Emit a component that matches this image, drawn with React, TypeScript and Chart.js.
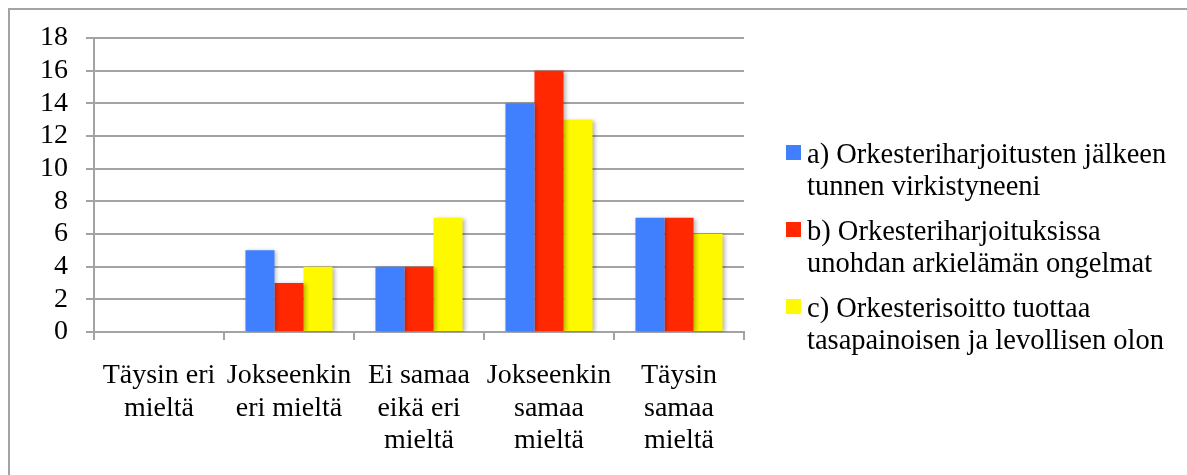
import React, { useEffect, useRef } from "react";
import { Chart, registerables } from "chart.js";

Chart.register(...registerables);

const categories: string[][] = [
  ["Täysin eri", "mieltä"],
  ["Jokseenkin", "eri mieltä"],
  ["Ei samaa", "eikä eri", "mieltä"],
  ["Jokseenkin", "samaa", "mieltä"],
  ["Täysin", "samaa", "mieltä"],
];

const seriesA: number[] = [0, 5, 4, 14, 7];
const seriesB: number[] = [0, 3, 4, 16, 7];
const seriesC: number[] = [0, 4, 7, 13, 6];

const legendLabels: string[][] = [
  ["a) Orkesteriharjoitusten jälkeen", "tunnen virkistyneeni"],
  ["b) Orkesteriharjoituksissa", "unohdan arkielämän ongelmat"],
  ["c) Orkesterisoitto tuottaa", "tasapainoisen ja levollisen olon"],
];

const colors = ["#4080ff", "#ff2800", "#fff900"];

const yTicks = { min: 0, max: 18, step: 2 };

const FONT = '"Liberation Serif", "Times New Roman", serif';
const GRID = "#a3a3a3";

const shadowPlugin = {
  id: "barShadow",
  beforeDatasetsDraw(chart: any) {
    const ctx = chart.ctx;
    ctx.save();
    ctx.shadowColor = "rgba(0,0,0,0.28)";
    ctx.shadowBlur = 4;
    ctx.shadowOffsetX = 2;
    ctx.shadowOffsetY = 1;
  },
  afterDatasetsDraw(chart: any) {
    chart.ctx.restore();
  },
};

const legendPlugin = {
  id: "multiLegend",
  afterDraw(chart: any) {
    const ctx = chart.ctx;
    const area = chart.chartArea;
    const boxX = area.right + 42;
    const textX = boxX + 21;
    ctx.save();
    ctx.font = `28.5px ${FONT}`;
    ctx.textBaseline = "alphabetic";
    ctx.textAlign = "left";
    chart.data.datasets.forEach((ds: any, i: number) => {
      const baseY = 153 + i * 77;
      ctx.fillStyle = ds.backgroundColor;
      ctx.fillRect(boxX, baseY - 18, 15, 15);
      ctx.fillStyle = "#000";
      const lines: string[] = ds.legendLines;
      lines.forEach((line, j) => {
        ctx.fillText(line, textX, baseY + j * 32);
      });
    });
    ctx.restore();
  },
};

export default function App() {
  const canvasRef = useRef<HTMLCanvasElement | null>(null);

  useEffect(() => {
    if (!canvasRef.current) return;
    const series = [seriesA, seriesB, seriesC];
    const chart = new Chart(canvasRef.current, {
      type: "bar",
      data: {
        labels: categories,
        datasets: series.map((s, i) => ({
          label: legendLabels[i].join(" "),
          legendLines: legendLabels[i],
          data: s,
          backgroundColor: colors[i],
          borderWidth: 0,
          categoryPercentage: 0.67,
          barPercentage: 1,
        })) as any,
      },
      options: {
        animation: false,
        responsive: true,
        maintainAspectRatio: false,
        layout: { padding: { left: 20, top: 28, right: 443, bottom: 0 } },
        plugins: {
          legend: { display: false },
          tooltip: { enabled: false },
          title: { display: false },
        },
        scales: {
          x: {
            afterFit(scale: any) {
              scale.height = 143;
              scale.paddingLeft = 0;
              scale.paddingRight = 0;
            },
            grid: {
              offset: true,
              drawOnChartArea: false,
              drawTicks: true,
              tickLength: 8,
              color: GRID,
              lineWidth: 2,
            },
            border: { color: GRID, width: 2 },
            ticks: {
              color: "#000",
              font: { family: FONT, size: 28, lineHeight: 1.15 },
              padding: 20,
              maxRotation: 0,
              autoSkip: false,
            },
          },
          y: {
            min: yTicks.min,
            max: yTicks.max,
            afterFit(scale: any) {
              scale.width = 64;
              scale.paddingTop = 0;
              scale.paddingBottom = 0;
            },
            grid: {
              color: GRID,
              lineWidth: 2,
              drawTicks: true,
              tickLength: 8,
            },
            border: { color: GRID, width: 2 },
            ticks: {
              stepSize: yTicks.step,
              autoSkip: false,
              color: "#000",
              font: { family: FONT, size: 28 },
              padding: 18,
            },
          },
        },
      },
      plugins: [shadowPlugin, legendPlugin],
    });
    return () => chart.destroy();
  }, []);

  return (
    <div
      style={{
        position: "fixed",
        left: 8,
        top: 8,
        width: 1179,
        height: 467,
        boxSizing: "border-box",
        borderTop: `2px solid ${GRID}`,
        borderLeft: `2px solid ${GRID}`,
        background: "#fff",
      }}
    >
      <div style={{ position: "relative", width: 1177, height: 465 }}>
        <canvas ref={canvasRef} />
      </div>
    </div>
  );
}
